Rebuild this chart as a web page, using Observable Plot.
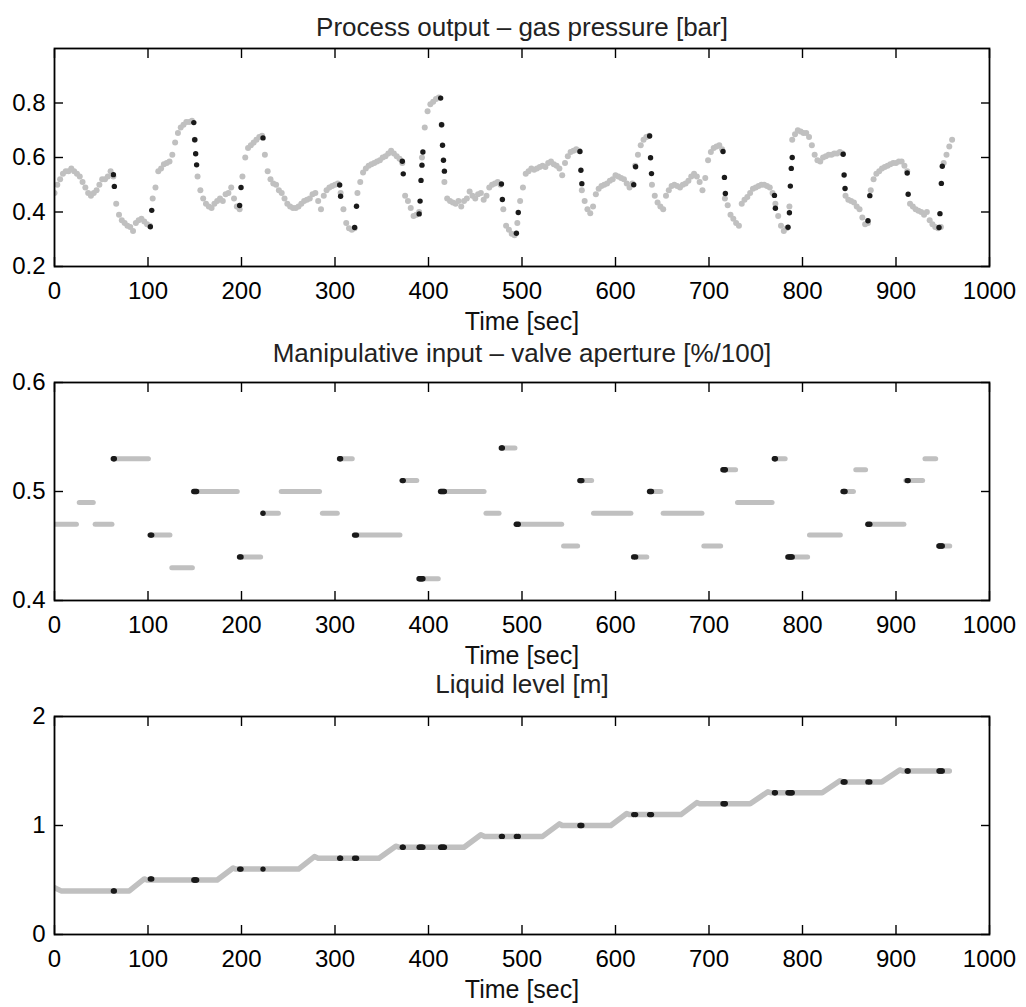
<!DOCTYPE html>
<html><head><meta charset="utf-8">
<script src="https://cdn.jsdelivr.net/npm/d3@7"></script>
<script src="https://cdn.jsdelivr.net/npm/@observablehq/plot@0.6"></script>
<style>
body{margin:0;background:#fff;}
#fig{position:relative;width:1026px;height:1007px;background:#fff;overflow:hidden;}
#fig svg{position:absolute;left:0;}
</style></head><body><div id="fig"></div>
<script>
// ---------- data ----------
const sampleStep = 3; // seconds between pressure samples
const pressureValues = [
0.47,0.50,0.52,0.54,0.55,0.55,0.56,0.55,0.54,0.53,
0.51,0.49,0.47,0.46,0.47,0.48,0.50,0.52,0.52,0.53,
0.55,0.53,0.43,0.39,0.37,0.36,0.35,0.345,0.33,0.36,
0.37,0.375,0.365,0.355,0.35,0.45,0.49,0.55,0.56,0.575,
0.58,0.585,0.61,0.655,0.69,0.71,0.72,0.73,0.73,0.735,
0.665,0.53,0.48,0.45,0.43,0.42,0.415,0.43,0.44,0.45,
0.44,0.465,0.47,0.49,0.45,0.42,0.41,0.53,0.60,0.635,
0.645,0.655,0.665,0.675,0.68,0.61,0.55,0.52,0.505,0.50,
0.48,0.47,0.45,0.43,0.42,0.415,0.415,0.42,0.43,0.44,
0.445,0.45,0.465,0.47,0.44,0.41,0.46,0.48,0.49,0.495,
0.50,0.505,0.47,0.41,0.36,0.34,0.335,0.34,0.47,0.51,
0.545,0.56,0.57,0.575,0.58,0.585,0.59,0.60,0.605,0.615,
0.625,0.615,0.605,0.595,0.58,0.46,0.44,0.415,0.385,0.39,
0.40,0.60,0.71,0.77,0.795,0.805,0.815,0.82,0.72,0.51,
0.45,0.44,0.435,0.43,0.44,0.42,0.44,0.45,0.475,0.46,
0.45,0.465,0.47,0.445,0.46,0.49,0.50,0.505,0.51,0.50,
0.41,0.35,0.335,0.32,0.315,0.36,0.44,0.49,0.54,0.55,
0.56,0.555,0.56,0.565,0.57,0.565,0.58,0.585,0.575,0.57,
0.56,0.535,0.58,0.605,0.62,0.625,0.63,0.625,0.48,0.44,
0.41,0.395,0.42,0.465,0.485,0.495,0.50,0.505,0.515,0.52,
0.535,0.53,0.525,0.52,0.505,0.49,0.505,0.57,0.61,0.645,
0.665,0.675,0.68,0.50,0.46,0.435,0.42,0.41,0.46,0.48,
0.495,0.50,0.495,0.49,0.50,0.505,0.515,0.53,0.54,0.53,
0.51,0.48,0.525,0.59,0.62,0.635,0.64,0.645,0.63,0.45,
0.425,0.39,0.375,0.36,0.35,0.43,0.445,0.455,0.47,0.485,
0.49,0.495,0.50,0.50,0.495,0.49,0.47,0.43,0.385,0.35,
0.33,0.34,0.42,0.665,0.685,0.70,0.695,0.69,0.69,0.675,
0.645,0.61,0.59,0.585,0.60,0.605,0.61,0.61,0.615,0.615,
0.62,0.615,0.46,0.445,0.44,0.435,0.42,0.41,0.38,0.355,
0.36,0.48,0.52,0.54,0.55,0.56,0.565,0.57,0.575,0.58,
0.58,0.585,0.585,0.57,0.55,0.43,0.42,0.41,0.405,0.40,
0.39,0.40,0.37,0.355,0.345,0.34,0.345,0.58,0.61,0.64,
0.665];

const eventTimes = [63,64, 102.5,104, 149,150,151,152, 198,199.5, 223, 305,306, 321,323, 372,373,
  390,391,392,393,394, 413,414,415,416,417, 478,479, 494,496, 562,563,564, 619.5,621.5,
  636.5,637.5,638.5, 715,716.5,717.5, 770,771, 784.5,786,787,788,789, 843.5,844.5,845.5,
  870,872, 912,913, 946,947,948.5,949.5];
const eventPressure = [0.537,0.494, 0.346,0.406, 0.728,0.665,0.614,0.573, 0.424,0.49, 0.672, 0.499,0.458,
  0.343,0.421, 0.586,0.54, 0.393,0.44,0.516,0.572,0.62, 0.818,0.72,0.645,0.59,0.55, 0.503,0.446,
  0.322,0.398, 0.622,0.553,0.504, 0.50,0.566, 0.679,0.599,0.541, 0.622,0.527,0.468, 0.461,0.414,
  0.344,0.397,0.495,0.56,0.60, 0.612,0.536,0.486, 0.368,0.46, 0.543,0.465, 0.343,0.394,0.505,0.568];
const eventValve = [0.53,0.53, 0.46,0.46, 0.50,0.50,0.50,0.50, 0.44,0.44, 0.48, 0.53,0.53, 0.46,0.46,
  0.51,0.51, 0.42,0.42,0.42,0.42,0.42, 0.50,0.50,0.50,0.50,0.50, 0.54,0.54, 0.47,0.47,
  0.51,0.51,0.51, 0.44,0.44, 0.50,0.50,0.50, 0.52,0.52,0.52, 0.53,0.53, 0.44,0.44,0.44,0.44,0.44,
  0.50,0.50,0.50, 0.47,0.47, 0.51,0.51, 0.45,0.45,0.45,0.45];
const eventLevel = [0.40,0.40, 0.51,0.51, 0.50,0.50,0.50,0.50, 0.60,0.60, 0.60, 0.70,0.70, 0.70,0.70,
  0.80,0.80, 0.80,0.80,0.80,0.80,0.80, 0.80,0.80,0.80,0.80,0.80, 0.90,0.90, 0.90,0.90,
  1.00,1.00,1.00, 1.10,1.10, 1.10,1.10,1.10, 1.20,1.20,1.20, 1.30,1.30, 1.30,1.30,1.30,1.30,1.30,
  1.40,1.40,1.40, 1.40,1.40, 1.50,1.50, 1.50,1.50,1.50,1.50];

const valveStart = [0,27,44,63,102.5,126,149,198,223,243,287,305,321,372,390,413,462,478,494,545,562,577,619.5,636.5,651.5,695,715,731,770,784.5,808,843.5,857.5,870,911,931.5,946];
const valveEnd   = [24,42,62,101,124,148,196,221,240,284,303,319,370,388,411,460,476,493,543,560,575,617,634,649,693,713,729,768,782,806,841,855,868,909,929,943,958];
const valveValue = [0.47,0.49,0.47,0.53,0.46,0.43,0.50,0.44,0.48,0.50,0.48,0.53,0.46,0.51,0.42,0.50,0.48,0.54,0.47,0.45,0.51,0.48,0.44,0.50,0.48,0.45,0.52,0.49,0.53,0.44,0.46,0.50,0.52,0.47,0.51,0.53,0.45];

const levelTime  = [0,7,80,96,99,174,191,194,261,278,282,347,365,369,438,456,460,522,540,543,595,612,615,670,687,690,744,763,766,821,840,843,885,904,907,957];
const levelValue = [0.43,0.40,0.40,0.51,0.50,0.50,0.61,0.60,0.60,0.715,0.70,0.70,0.81,0.80,0.80,0.915,0.90,0.90,1.015,1.00,1.00,1.11,1.10,1.10,1.21,1.20,1.20,1.31,1.30,1.30,1.41,1.40,1.40,1.51,1.50,1.50];

const xTicks = [0,100,200,300,400,500,600,700,800,900,1000];
const pressureTicks = [0.2,0.4,0.6,0.8];
const valveTicks = [0.4,0.5,0.6];
const levelTicks = [0,1,2];
const titles = ["Process output \u2013 gas pressure [bar]", "Manipulative input \u2013 valve aperture [%/100]", "Liquid level [m]"];
const xLabel = "Time [sec]";

// ---------- tables ----------
const pressure = pressureValues.map((v, i) => ({t: i * sampleStep, v}));
const events = eventTimes.map((t, i) => ({t, p: eventPressure[i], u: eventValve[i], h: eventLevel[i]}));
const valveSegs = valveStart.map((s, i) => ({s, e: valveEnd[i], v: valveValue[i]}));
const level = levelTime.map((t, i) => ({t, v: levelValue[i]}));

const GRAY = "#c0c0c0", BLACK = "#1a1a1a";
const FONT = "'Liberation Sans', Arial, Helvetica, sans-serif";
const fmt = d => String(d);
const fig = document.getElementById("fig");

function panel({top, height, yDomain, yTicks, title, titleBaseline, marks}) {
  const svg = Plot.plot({
    width: 1026, height,
    marginLeft: 54, marginRight: 37, marginTop: 48, marginBottom: height - 48 - 218,
    style: {fontFamily: FONT, fontSize: "24px", color: "#000", background: "transparent", overflow: "visible"},
    x: {domain: [0, 1000]},
    y: {domain: yDomain},
    marks: [
      ...marks,
      Plot.axisX({anchor: "bottom", ticks: xTicks, tickSize: -9, strokeWidth: 1.4, tickFormat: () => "", label: null}),
      Plot.axisX({anchor: "top", ticks: xTicks, tickSize: -9, strokeWidth: 1.4, tickFormat: () => "", label: null}),
      Plot.axisY({anchor: "left", ticks: yTicks, tickSize: -9, strokeWidth: 1.4, tickFormat: () => "", label: null}),
      Plot.axisY({anchor: "right", ticks: yTicks, tickSize: -9, strokeWidth: 1.4, tickFormat: () => "", label: null}),
      Plot.axisX({anchor: "bottom", ticks: xTicks, tickSize: 0, tickPadding: 15, tickFormat: fmt, label: null, fill: "#000", fontSize: 24}),
      Plot.axisY({anchor: "left", ticks: yTicks, tickSize: 0, tickPadding: 9, tickFormat: fmt, label: null, fill: "#000", fontSize: 24}),
      Plot.frame({stroke: "#000", strokeWidth: 1.8}),
      Plot.text([title], {text: d => d, frameAnchor: "top", lineAnchor: "bottom", dy: titleBaseline - 48, fontSize: 26, fill: "#222"}),
      Plot.text([xLabel], {text: d => d, frameAnchor: "bottom", lineAnchor: "bottom", dy: 63, fontSize: 25, fill: "#111"})
    ]
  });
  svg.style.top = top + "px";
  fig.append(svg);
}

panel({
  top: 0, height: 334, yDomain: [0.2, 1.0], yTicks: pressureTicks, title: titles[0], titleBaseline: 35,
  marks: [
    Plot.dot(pressure, {x: "t", y: "v", r: 3, fill: GRAY, clip: true}),
    Plot.dot(events, {x: "t", y: "p", r: 2.7, fill: BLACK, clip: true})
  ]
});
panel({
  top: 334, height: 334, yDomain: [0.4, 0.6], yTicks: valveTicks, title: titles[1], titleBaseline: 27,
  marks: [
    Plot.ruleY(valveSegs, {y: "v", x1: "s", x2: "e", stroke: GRAY, strokeWidth: 5, strokeLinecap: "round", clip: true}),
    Plot.dot(events, {x: "t", y: "u", r: 2.7, fill: BLACK, clip: true})
  ]
});
panel({
  top: 668, height: 339, yDomain: [0, 2], yTicks: levelTicks, title: titles[2], titleBaseline: 24,
  marks: [
    Plot.line(level, {x: "t", y: "v", stroke: GRAY, strokeWidth: 5.5, strokeLinecap: "round", strokeLinejoin: "round", clip: true}),
    Plot.dot(events, {x: "t", y: "h", r: 2.7, fill: BLACK, clip: true})
  ]
});
</script></body></html>
